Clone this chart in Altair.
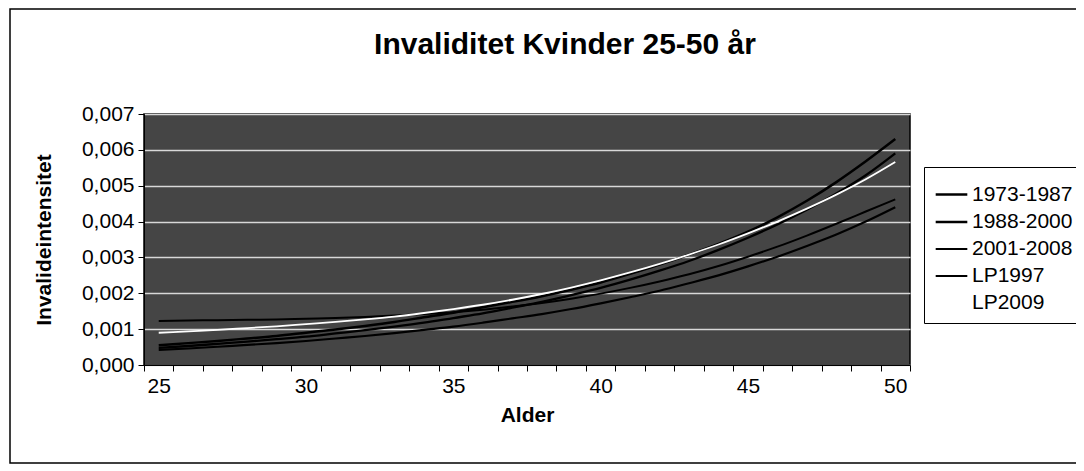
import altair as alt
import pandas as pd

ages = list(range(25, 51))
series_names = ["1973-1987", "1988-2000", "2001-2008", "LP1997", "LP2009"]

s_1973_1987 = [0.00055, 0.00061, 0.00067, 0.00074, 0.00081, 0.00090, 0.00099, 0.00109, 0.00120, 0.00133,
               0.00146, 0.00161, 0.00176, 0.00192, 0.00210, 0.00230, 0.00254, 0.00280, 0.00308, 0.00338,
               0.00372, 0.00412, 0.00458, 0.00510, 0.00568, 0.00630]
s_1988_2000 = [0.00048, 0.00053, 0.00059, 0.00065, 0.00072, 0.00079, 0.00088, 0.00097, 0.00107, 0.00118,
               0.00131, 0.00144, 0.00160, 0.00176, 0.00195, 0.00215, 0.00238, 0.00263, 0.00290, 0.00321,
               0.00355, 0.00392, 0.00433, 0.00478, 0.00529, 0.00590]
s_2001_2008 = [0.00042, 0.00046, 0.00051, 0.00056, 0.00061, 0.00067, 0.00074, 0.00081, 0.00089, 0.00098,
               0.00107, 0.00118, 0.00130, 0.00142, 0.00156, 0.00172, 0.00189, 0.00207, 0.00228, 0.00250,
               0.00275, 0.00302, 0.00332, 0.00364, 0.00400, 0.00440]
s_lp1997 = [0.00123, 0.00124, 0.00125, 0.00126, 0.00127, 0.00129, 0.00131, 0.00134, 0.00138, 0.00142,
            0.00147, 0.00154, 0.00163, 0.00173, 0.00185, 0.00199, 0.00215, 0.00233, 0.00253, 0.00276,
            0.00302, 0.00330, 0.00361, 0.00394, 0.00428, 0.00462]
s_lp2009 = [0.00090, 0.00094, 0.00098, 0.00103, 0.00108, 0.00114, 0.00120, 0.00127, 0.00135, 0.00145,
            0.00156, 0.00168, 0.00182, 0.00198, 0.00216, 0.00236, 0.00258, 0.00282, 0.00308, 0.00336,
            0.00367, 0.00400, 0.00436, 0.00475, 0.00518, 0.00566]

y_ticks = [0.000, 0.001, 0.002, 0.003, 0.004, 0.005, 0.006, 0.007]
x_tick_bounds = [a - 0.5 for a in ages] + [ages[-1] + 0.5]

all_series = [s_1973_1987, s_1988_2000, s_2001_2008, s_lp1997, s_lp2009]
rows = []
for name, vals in zip(series_names, all_series):
    for a, v in zip(ages, vals):
        rows.append({"Alder": a, "serie": name, "val": v})
df = pd.DataFrame(rows)

FONT = "Liberation Sans"
W, H = 766, 251
band = W / len(ages)

legend_kw = dict(title=None, orient="none", legendX=780, legendY=53,
                 strokeColor="black", fillColor="white", padding=10,
                 labelFontSize=21, labelFont=FONT, labelColor="black",
                 symbolType="stroke", symbolSize=1000, labelOffset=3,
                 rowPadding=-6)

lines = alt.Chart(df).mark_line(interpolate="monotone").encode(
    x=alt.X("Alder:Q",
            scale=alt.Scale(domain=[ages[0] - 0.5, ages[-1] + 0.5], nice=False, zero=False),
            axis=alt.Axis(values=x_tick_bounds,
                          labelExpr="(datum.value + 0.5) % 5 == 0 ? '' + (datum.value + 0.5) : ''",
                          labelOffset=band / 2, labelFlush=False, labelOverlap=False,
                          grid=False, tickSize=6, tickColor="black", domainColor="black",
                          labelFontSize=21, labelFont=FONT, labelColor="black", labelPadding=4,
                          title="Alder", titleFontSize=21, titleFont=FONT, titleFontWeight="bold",
                          titleColor="black", titleY=50, titleBaseline="middle")),
    y=alt.Y("val:Q",
            scale=alt.Scale(domain=[0, 0.007], nice=False),
            axis=alt.Axis(values=y_ticks,
                          labelExpr="replace(format(datum.value, '.3f'), '.', ',')",
                          grid=True, gridColor="#d8d8d8", gridWidth=1.5,
                          tickSize=6, tickColor="black", domainColor="black",
                          labelFontSize=21, labelFont=FONT, labelColor="black", labelPadding=4,
                          title="Invalideintensitet", titleFontSize=21, titleFont=FONT,
                          titleFontWeight="bold", titleColor="black",
                          titleX=-100, titleY=H / 2, titleAngle=-90,
                          titleAlign="center", titleBaseline="middle")),
    color=alt.Color("serie:N",
                    scale=alt.Scale(domain=series_names,
                                    range=["black", "black", "black", "black", "white"]),
                    legend=alt.Legend(**legend_kw)),
    strokeWidth=alt.StrokeWidth("serie:N",
                                scale=alt.Scale(domain=series_names, range=[2.5, 1.8, 1.1, 2.5, 2.5]),
                                legend=alt.Legend(**legend_kw)),
    order=alt.Order("Alder:Q"),
)

frame = alt.Chart(alt.Data(values=[{"f": 1}])).mark_rect(
    fill=None, stroke="black", strokeWidth=1.5, clip=False
).encode(x=alt.value(-134), x2=alt.value(960), y=alt.value(-105), y2=alt.value(349))

chart = alt.layer(frame, lines).properties(
    width=W, height=H,
    title=alt.TitleParams("Invaliditet Kvinder 25-50 år", fontSize=30, font=FONT,
                          fontWeight="bold", color="black", anchor="middle", frame="group",
                          dx=38, dy=80, offset=4, baseline="alphabetic"),
    padding={"left": 136, "top": 106, "right": 166, "bottom": 100},
    autosize=alt.AutoSizeParams(type="none"),
    background="white",
).configure_view(fill="#454545", stroke="black", strokeWidth=1.5)

chart.save("out.html", embed_options={"renderer": "svg", "actions": False})
